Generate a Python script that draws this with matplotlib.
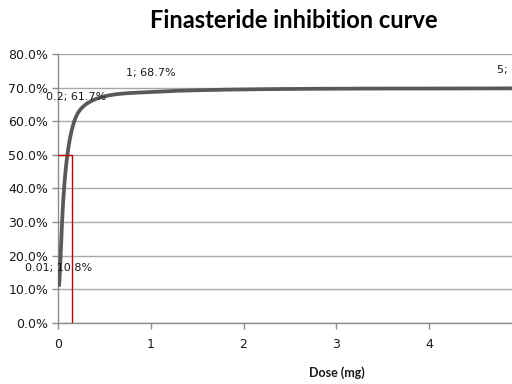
import numpy as np
import matplotlib
matplotlib.use("Agg")
import matplotlib.pyplot as plt
from matplotlib.ticker import FuncFormatter

plt.rcParams['font.family'] = ['DejaVu Sans']

# Data
dose = [0.01, 0.2, 1, 5]
inhibition = [10.8, 61.7, 68.7, 69.8]
ic50_dose = 0.148
ic50_level = 50.0
x_ticks = [0, 1, 2, 3, 4, 5, 6]
y_ticks = [0, 10, 20, 30, 40, 50, 60, 70, 80]


def excel_smooth(ax, xs, ys, n=80):
    # Bezier "smoothed line", worked out in display pixels like Excel does
    pts = ax.transData.transform(np.column_stack([xs, ys]))
    m = len(pts)
    t = np.linspace(0, 1, n)[:, None]
    out = []
    for i in range(m - 1):
        p0, p1 = pts[max(i - 1, 0)], pts[i]
        p2, p3 = pts[i + 1], pts[min(i + 2, m - 1)]
        seg = np.linalg.norm(p2 - p1)
        d1 = p2 - p0
        d2 = p3 - p1
        k1 = min(np.linalg.norm(d1) / 6, seg / 3) / np.linalg.norm(d1)
        k2 = min(np.linalg.norm(d2) / 6, seg / 3) / np.linalg.norm(d2)
        c1 = p1 + d1 * k1
        c2 = p2 - d2 * k2
        b = ((1 - t) ** 3 * p1 + 3 * (1 - t) ** 2 * t * c1
             + 3 * (1 - t) * t ** 2 * c2 + t ** 3 * p2)
        out.append(b)
    curve = ax.transData.inverted().transform(np.vstack(out))
    return curve[:, 0], curve[:, 1]


fig = plt.figure(figsize=(5.12, 3.84), dpi=100)
fig.patch.set_facecolor('white')
# plot area runs past the right edge (reference is cropped)
ax = fig.add_axes([0.1133, 0.1589, 1.087, 0.7005])

ax.set_xlim(0, 6)
ax.set_ylim(0, 80)
ax.set_xticks(x_ticks)
ax.set_yticks(y_ticks)
ax.yaxis.set_major_formatter(FuncFormatter(lambda v, p: f"{v:.1f}%"))
ax.grid(axis='y', color='#a8a8a8', lw=1.0)
ax.set_axisbelow(True)

for s in ['top', 'right']:
    ax.spines[s].set_visible(False)
for s in ['left', 'bottom']:
    ax.spines[s].set_color('#8c8c8c')
    ax.spines[s].set_linewidth(1.0)
ax.tick_params(axis='both', colors='#8c8c8c', length=4, width=1.0,
               labelcolor='#1a1a1a', labelsize=9)
ax.tick_params(axis='y', pad=3)
ax.tick_params(axis='x', pad=7)

sx, sy = excel_smooth(ax, dose, inhibition)
ax.plot(sx, sy, color='#595959', lw=2.7, solid_capstyle='butt', zorder=3)

# 50% marker lines
ax.plot([0, ic50_dose, ic50_dose], [ic50_level, ic50_level, 0],
        color='#c00000', lw=1.0, zorder=4)

for x, y in zip(dose, inhibition):
    lbl = f"{x:g}; {y:.1f}%"
    ax.annotate(lbl, (x, y), xytext=(0, 13.5), textcoords='offset points',
                ha='center', va='center', fontsize=8, color='#1a1a1a',
                annotation_clip=False, zorder=5)

fig.text(294 / 512, 1 - 20 / 384, "Finasteride inhibition curve",
         ha='center', va='center', fontsize=17, fontweight='bold',
         family=['Lato', 'DejaVu Sans'])
fig.text(337 / 512, 1 - 373 / 384, "Dose (mg)", ha='center', va='center',
         fontsize=9, fontweight='bold', color='#1a1a1a',
         family=['Lato', 'DejaVu Sans'])

fig.savefig('out.png', dpi=100)
